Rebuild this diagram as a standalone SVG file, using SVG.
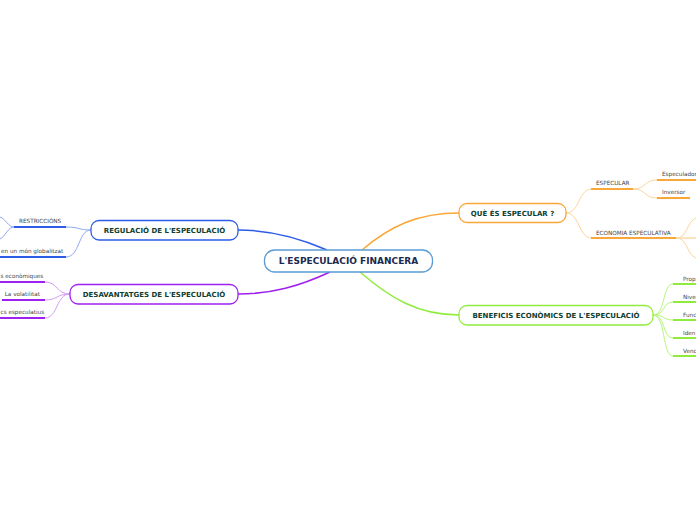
<svg xmlns="http://www.w3.org/2000/svg" width="696" height="520" viewBox="0 0 696 520">
<style>
.node rect{fill:#fff;stroke-width:1.3}
.title{font-family:"DejaVu Sans",Verdana,sans-serif;font-weight:bold;font-size:7px;fill:#0f3d2e;text-anchor:middle}
.central{font-family:"DejaVu Sans",Verdana,sans-serif;font-weight:bold;font-size:9px;fill:#1b2a4e;text-anchor:middle}
.lbl{font-family:"DejaVu Sans",Verdana,sans-serif;font-size:5.7px;fill:#444}
.c{fill:none}
.ul{fill:none;stroke-width:2}
</style>
<rect width="696" height="520" fill="#fff"/>
<g id="connectors">
  <path class="c" d="M362 250 C390 226 418 213 459 213" stroke="#f9a738" stroke-width="1.5"/>
  <path class="c" d="M360 272 C390 298 418 315 459 315" stroke="#90ec3c" stroke-width="1.5"/>
  <path class="c" d="M327 250 C300 238 272 230 238 230" stroke="#2c5ce8" stroke-width="1.5"/>
  <path class="c" d="M330 272 C300 286 272 294 238 294" stroke="#a020f0" stroke-width="1.5"/>
  <path class="c" d="M566 213 C580 213 578 189 592 189" stroke="#fdd59a" stroke-width="1"/>
  <path class="c" d="M566 213 C580 213 578 238 592 238" stroke="#fdd59a" stroke-width="1"/>
  <path class="ul" d="M591 189 H633" stroke="#f9a738"/>
  <path class="c" d="M633 189 C646 189 644 180 657 180" stroke="#fdd59a" stroke-width="1"/>
  <path class="c" d="M633 189 C646 189 644 198 657 198" stroke="#fdd59a" stroke-width="1"/>
  <path class="ul" d="M657 180 H696" stroke="#f9a738"/>
  <path class="ul" d="M657 198 H690" stroke="#f9a738"/>
  <path class="ul" d="M591 238 H676" stroke="#f9a738"/>
  <path class="c" d="M676 238 C688 238 686 222 696 218" stroke="#fdd59a" stroke-width="1"/>
  <path class="c" d="M676 238 H696" stroke="#fde3bb" stroke-width="2"/>
  <path class="c" d="M676 238 C688 238 686 254 696 258" stroke="#fdd59a" stroke-width="1"/>
  <path class="c" d="M653 315 C666 315 662 284 673 284" stroke="#b8f47c" stroke-width="1"/>
  <path class="c" d="M653 315 C666 315 662 302 673 302" stroke="#b8f47c" stroke-width="1"/>
  <path class="c" d="M653 315 C666 315 662 320 673 320" stroke="#b8f47c" stroke-width="1"/>
  <path class="c" d="M653 315 C666 315 662 338 673 338" stroke="#b8f47c" stroke-width="1"/>
  <path class="c" d="M653 315 C666 315 662 356 673 356" stroke="#b8f47c" stroke-width="1"/>
  <path class="ul" d="M673 284 H696 M673 302 H696 M673 320 H696 M673 338 H696 M673 356 H696" stroke="#90ec3c"/>
  <path class="c" d="M66 227 C80 227 78 230 91 230" stroke="#8fa9f2" stroke-width="1"/>
  <path class="c" d="M66 257 C80 257 78 230 91 230" stroke="#8fa9f2" stroke-width="1"/>
  <path class="ul" d="M14 227 H66" stroke="#2c5ce8"/>
  <path class="ul" d="M0 257 H66" stroke="#2c5ce8"/>
  <path class="c" d="M14 227 C8 227 6 219 0 217" stroke="#8fa9f2" stroke-width="1"/>
  <path class="c" d="M14 227 C8 227 6 236 0 239" stroke="#8fa9f2" stroke-width="1"/>
  <path class="c" d="M45 282 C58 282 56 294 70 294" stroke="#d49cf6" stroke-width="1"/>
  <path class="c" d="M45 300 C58 300 56 294 70 294" stroke="#d49cf6" stroke-width="1"/>
  <path class="c" d="M45 318 C58 318 56 294 70 294" stroke="#d49cf6" stroke-width="1"/>
  <path class="ul" d="M0 282 H45 M2 300 H45 M0 318 H45" stroke="#a020f0"/>
</g>
<g id="central" class="node">
  <rect x="264.5" y="250" width="168" height="22" rx="10" stroke="#5b9bd5"/>
  <text class="central" x="348.5" y="264.3">L'ESPECULACIÓ FINANCERA</text>
</g>
<g id="que" class="node">
  <rect x="459" y="203.5" width="107" height="19" rx="8" stroke="#f9a738"/>
  <text class="title" x="512.5" y="215.5">QUÈ ÉS ESPECULAR ?</text>
</g>
<g id="beneficis" class="node">
  <rect x="459" y="305.5" width="194" height="19.5" rx="8" stroke="#90ec3c"/>
  <text class="title" x="556" y="317.8">BENEFICIS ECONÒMICS DE L'ESPECULACIÓ</text>
</g>
<g id="regulacio" class="node">
  <rect x="91" y="220.5" width="147" height="19.5" rx="8" stroke="#2c5ce8"/>
  <text class="title" x="164.5" y="232.8">REGULACIÓ DE L'ESPECULACIÓ</text>
</g>
<g id="desavantatges" class="node">
  <rect x="70" y="284.5" width="168" height="19.5" rx="8" stroke="#a020f0"/>
  <text class="title" x="154" y="296.8">DESAVANTATGES DE L'ESPECULACIÓ</text>
</g>
<g id="especular"><text class="lbl" x="596" y="185">ESPECULAR</text></g>
<g id="especulador"><text class="lbl" x="662" y="176">Especulador</text></g>
<g id="inversor"><text class="lbl" x="662" y="194">Inversor</text></g>
<g id="economia"><text class="lbl" x="596" y="234.5">ECONOMIA ESPECULATIVA</text></g>
<g id="b1"><text class="lbl" x="683" y="280.5">Prop</text></g>
<g id="b2"><text class="lbl" x="683" y="298.5">Nive</text></g>
<g id="b3"><text class="lbl" x="683" y="316.5">Func</text></g>
<g id="b4"><text class="lbl" x="683" y="334.5">Iden</text></g>
<g id="b5"><text class="lbl" x="683" y="352.5">Venc</text></g>
<g id="restriccions"><text class="lbl" x="19" y="223">RESTRICCIÓNS</text></g>
<g id="globalitzat"><text class="lbl" x="1" y="252.5">en un món globalitzat</text></g>
<g id="economiques"><text class="lbl" x="0.5" y="277.5">s econòmiques</text></g>
<g id="volatilitat"><text class="lbl" x="40" y="295.5" text-anchor="end">La volatilitat</text></g>
<g id="especulatius"><text class="lbl" x="0.5" y="313.5">cs especulatius</text></g>
</svg>
